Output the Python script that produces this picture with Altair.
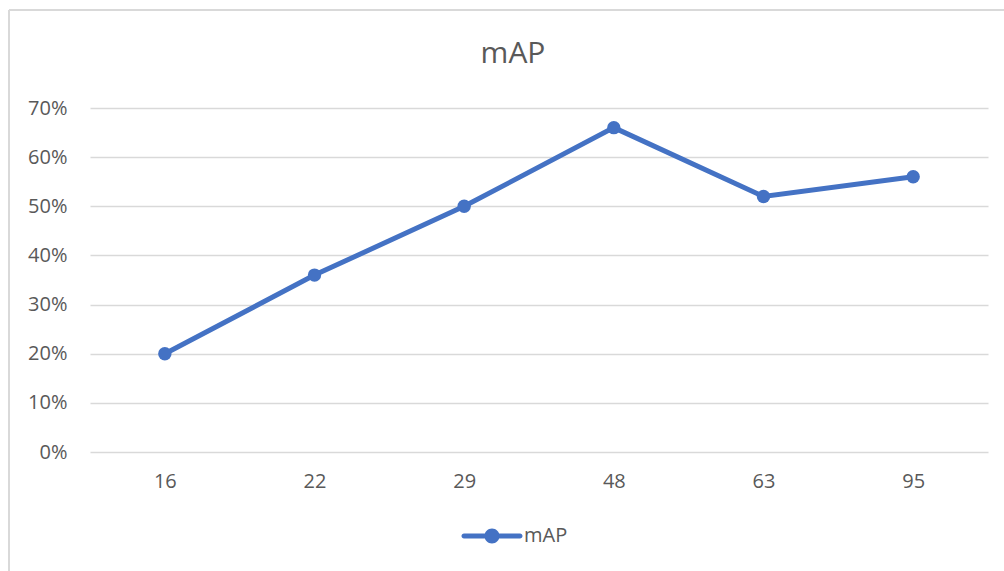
import altair as alt
import pandas as pd

# Values of mAP for each setting
categories = ["16", "22", "29", "48", "63", "95"]
map_values = [0.20, 0.36, 0.50, 0.66, 0.52, 0.56]
series_name = ["mAP"] * len(categories)

df = pd.DataFrame({"setting": categories, "mAP": map_values, "series": series_name})

BLUE = "#4472C4"
GREY_TEXT = "#595959"
GRID = "#D9D9D9"
FONT = "Open Sans"

# Legend symbol: a thick line with a dot in the middle (same winding so both fill)
legend_symbol = (
    "M-2.8,-0.25 L2.8,-0.25 A0.25,0.25 0 0,1 2.8,0.25 L-2.8,0.25 A0.25,0.25 0 0,1 -2.8,-0.25 Z "
    "M-0.75,0 A0.75,0.75 0 1,1 0.75,0 A0.75,0.75 0 1,1 -0.75,0 Z"
)

x_enc = alt.X(
    "setting:N",
    sort=categories,
    title=None,
    scale=alt.Scale(type="point", padding=0.5),
    axis=alt.Axis(
        labelAngle=0,
        domain=False,
        ticks=False,
        grid=False,
        labelFont=FONT,
        labelFontSize=20,
        labelColor=GREY_TEXT,
        labelPadding=19,
    ),
)
y_enc = alt.Y(
    "mAP:Q",
    title=None,
    scale=alt.Scale(domain=[0, 0.7], nice=False),
    axis=alt.Axis(
        format=".0%",
        values=[0, 0.1, 0.2, 0.3, 0.4, 0.5, 0.6, 0.7],
        domain=False,
        ticks=False,
        gridColor=GRID,
        gridWidth=1.5,
        labelFont=FONT,
        labelFontSize=20,
        labelColor=GREY_TEXT,
        labelPadding=23,
    ),
)

line = alt.Chart(df).mark_line(
    strokeWidth=5,
    point=alt.OverlayMarkDef(filled=True, size=180, color=BLUE),
).encode(
    x=x_enc,
    y=y_enc,
    color=alt.Color(
        "series:N",
        title=None,
        scale=alt.Scale(range=[BLUE]),
        legend=alt.Legend(
            orient="none",
            legendX=392,
            legendY=418,
            padding=0,
            symbolType=legend_symbol,
            symbolSize=400,
            symbolFillColor=BLUE,
            symbolStrokeColor=BLUE,
            symbolStrokeWidth=0,
            labelOffset=22,
            labelFont=FONT,
            labelFontSize=20,
            labelColor=GREY_TEXT,
        ),
    ),
)

# Outer chart frame (top and left edges)
frame_top = alt.Chart(df).mark_rule(color=GRID, strokeWidth=2).encode(
    x=alt.value(-81), x2=alt.value(920), y=alt.value(-98)
)
frame_left = alt.Chart(df).mark_rule(color=GRID, strokeWidth=2).encode(
    x=alt.value(-81), y=alt.value(-98), y2=alt.value(470)
)

# The title is laid out from the top of the view bounds, which the frame
# extends up to y=-99; a negative offset brings it back down inside the frame.
chart = (
    alt.layer(frame_top, frame_left, line)
    .properties(
        width=898,
        height=344,
        padding={"left": 90, "top": 108, "right": 16, "bottom": 119},
        autosize=alt.AutoSizeParams(type="none"),
        background="white",
        title=alt.TitleParams(
            "mAP",
            font=FONT,
            fontSize=30,
            fontWeight="normal",
            color=GREY_TEXT,
            anchor="middle",
            frame="group",
            baseline="alphabetic",
            dx=-26,
            offset=-84,
        ),
    )
    .configure_view(strokeWidth=0, stroke="transparent")
)

chart.save("out.html", embed_options={"renderer": "svg", "actions": False})
